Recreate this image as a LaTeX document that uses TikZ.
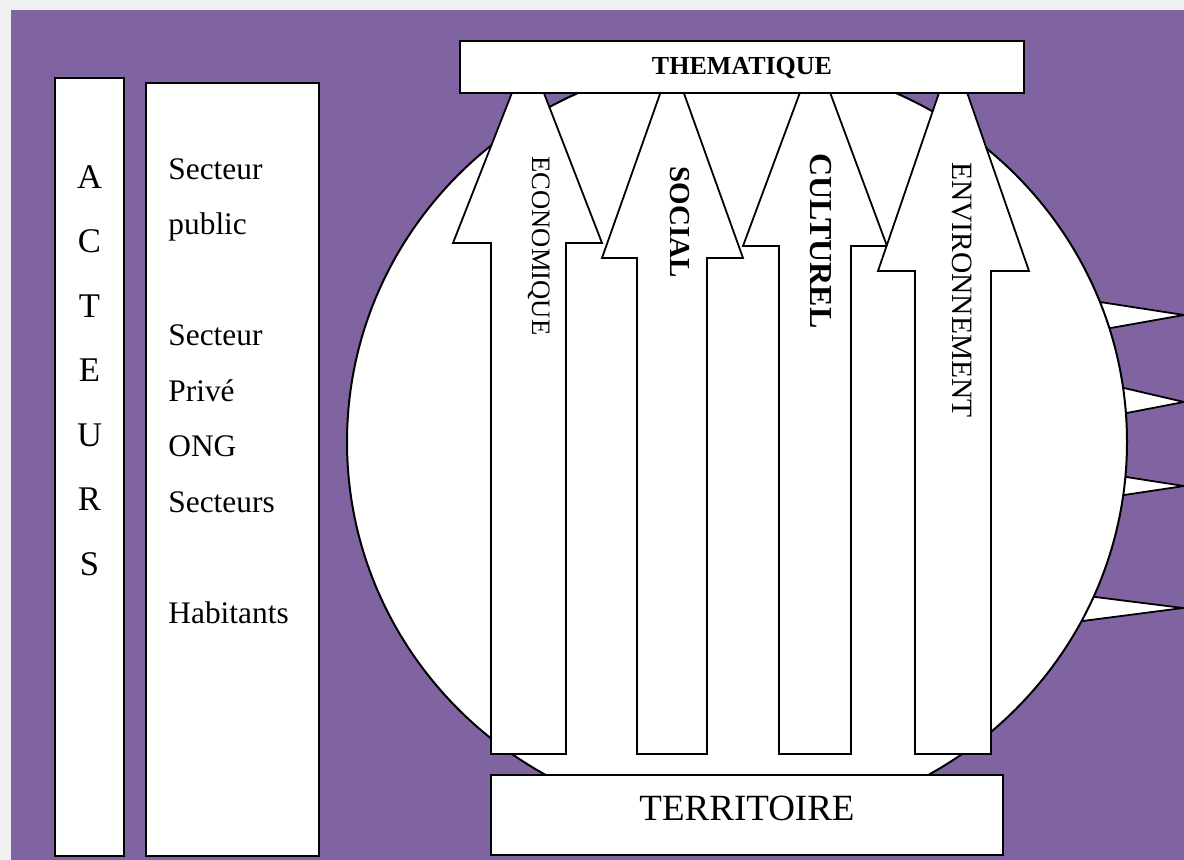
\documentclass[tikz,border=0pt]{standalone}
\usepackage{fontspec}
\setmainfont{Liberation Serif}
\usepackage{xcolor}
\definecolor{backdrop}{HTML}{8064A2}
\definecolor{margin}{HTML}{F0F0F0}

\begin{document}
\begin{tikzpicture}[
  x=0.5pt, y=-0.5pt,
  box/.style={draw, fill=white, line width=1pt, inner sep=0pt},
  pillar/.style={draw, fill=white, line width=0.9pt, line join=miter},
  spike/.style={draw, fill=white, line width=0.9pt},
  vlabel/.style={rotate=-90, inner sep=0pt},
]
  \useasboundingbox (0,0) rectangle (1184,860);
  \fill[margin] (0,0) rectangle (1184,860);
  \fill[backdrop] (11,10) rectangle (1184,860);

  % rays behind the disc
  \draw[spike] (1085,299.7) -- (1184,315) -- (1095,330.8);
  \draw[spike] (1105,383.6) -- (1184,402) -- (1105,417.2);
  \draw[spike] (1105,473.7) -- (1184,486) -- (1105,497.9);
  \draw[spike] (1065,593.2) -- (1183,608) -- (1065,623.3);

  \draw[line width=1pt, fill=white] (737,442) ellipse [x radius=390, y radius=382];

  % the four pillars
  \draw[pillar] (491,754) -- (491,243) -- (453,243) -- (528,52) -- (602,243) -- (566,243) -- (566,754) -- cycle;
  \draw[pillar] (637,754) -- (637,258) -- (602,258) -- (672,60) -- (743,258) -- (707,258) -- (707,754) -- cycle;
  \draw[pillar] (779,754) -- (779,246) -- (743,246) -- (815,52) -- (887,246) -- (851,246) -- (851,754) -- cycle;
  \draw[pillar] (915,754) -- (915,271) -- (878,271) -- (953,52) -- (1029,271) -- (991,271) -- (991,754) -- cycle;

  \node[vlabel, font=\fontsize{13.3}{16}\selectfont] (eco) at (539,246) {ECONOMIQUE};
  \node[vlabel, font=\bfseries\fontsize{14.5}{17}\selectfont] (soc) at (680,222) {SOCIAL};
  \node[vlabel, font=\bfseries\fontsize{16}{19}\selectfont] (cult) at (821,241) {CULTUREL};
  \node[vlabel, font=\fontsize{14.75}{17}\selectfont] (env) at (962.5,290) {ENVIRONNEMENT};

  \node[box, minimum width=282pt, minimum height=26pt] (thema) at (742,67) {};
  \node[font=\bfseries\fontsize{13}{15}\selectfont, anchor=base, inner sep=0pt] (themalabel) at (742,75) {THEMATIQUE};

  \node[box, minimum width=256pt, minimum height=40pt] (terr) at (747,815) {};
  \node[font=\fontsize{18.5}{22}\selectfont, anchor=base, inner sep=0pt] (terrlabel) at (747,820) {TERRITOIRE};

  % actors column
  \node[box, minimum width=34.5pt, minimum height=389pt] (acteurs) at (89.5,467) {};
  \node[font=\fontsize{17.3}{32.25}\selectfont, align=center, anchor=north, inner sep=0pt]
    (acteurslabel) at (89.5,165) {A\\C\\T\\E\\U\\R\\S};

  \node[box, minimum width=86.5pt, minimum height=386.5pt] (secteurs) at (232.5,469.5) {};
  \node[font=\fontsize{15.7}{27.75}\selectfont, align=left, anchor=north west, inner sep=0pt]
    (secteurslabel) at (168,158) {Secteur\\public\\[27.75pt]Secteur\\Privé\\ONG\\Secteurs\\[27.75pt]Habitants};
\end{tikzpicture}
\end{document}
